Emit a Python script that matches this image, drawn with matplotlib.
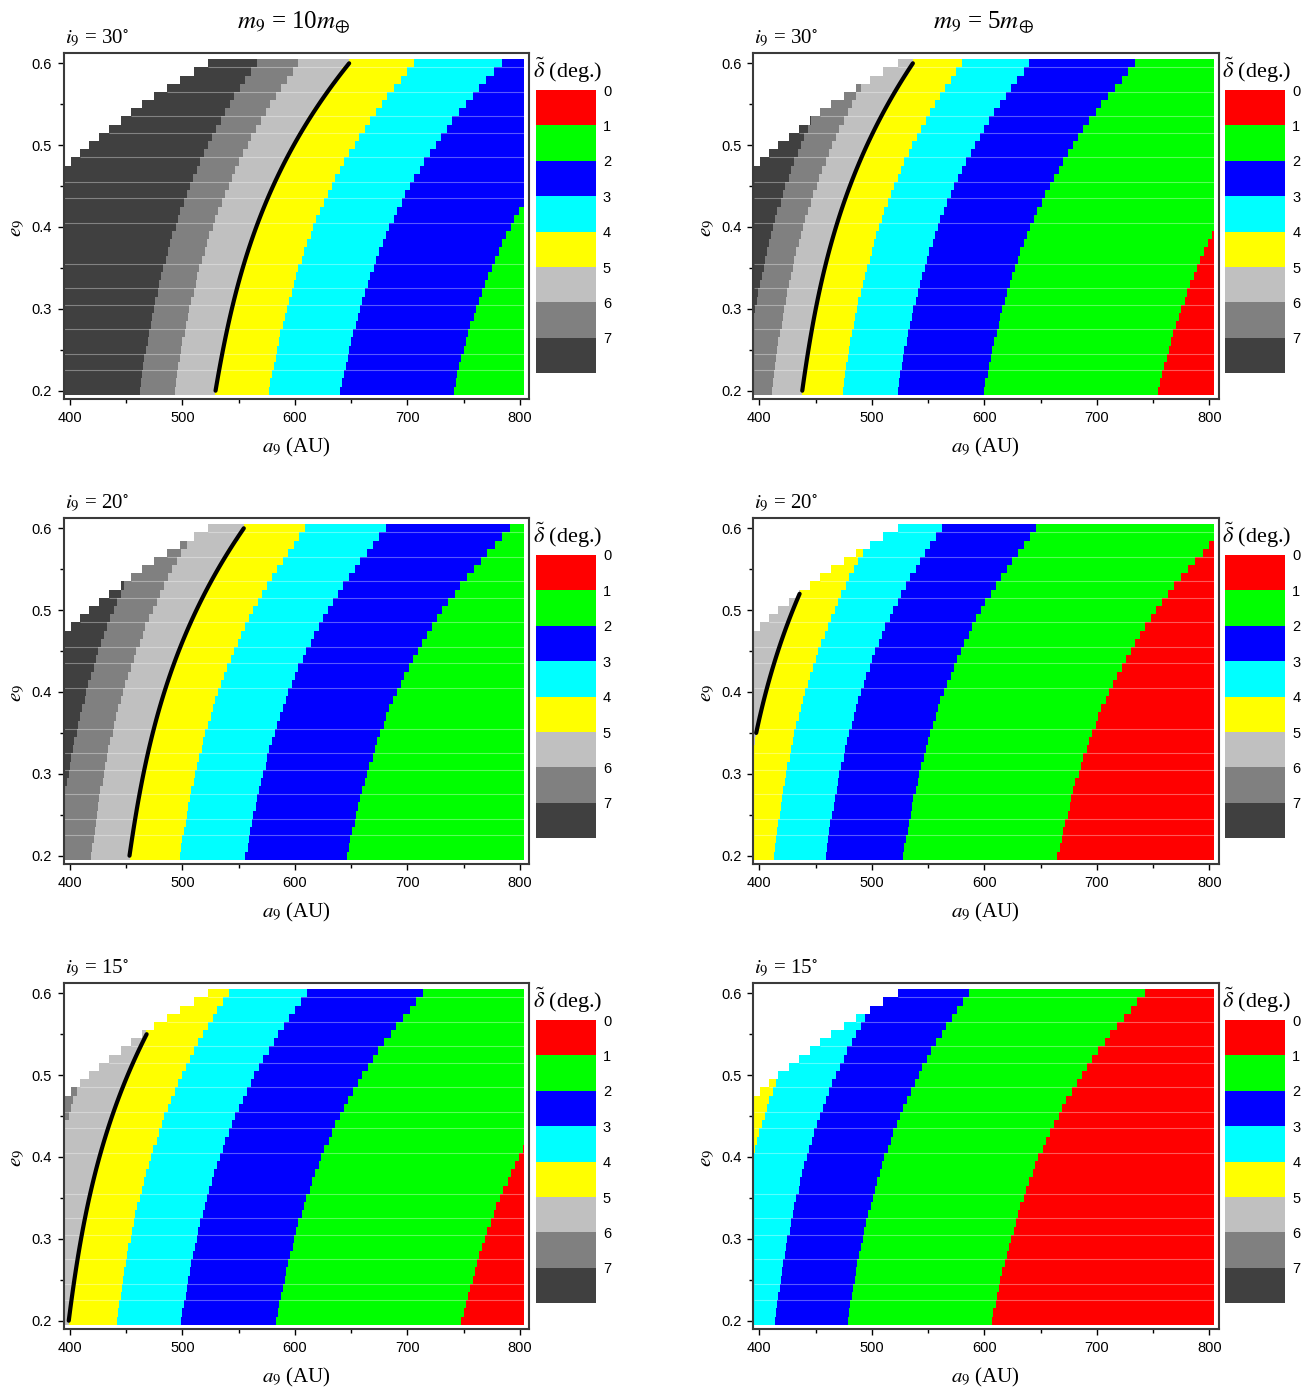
import numpy as np
import matplotlib
matplotlib.use('Agg')
import matplotlib.pyplot as plt
from matplotlib.colors import ListedColormap, BoundaryNorm

plt.rcParams['mathtext.fontset'] = 'stix'
plt.rcParams['font.family'] = ['Liberation Sans', 'DejaVu Sans']

# ---------------- data ----------------
MASS_TITLES = [r'$m_9$ = 10$m_{\oplus}$', r'$m_9$ = 5$m_{\oplus}$']
INCL_VALUES = ['30', '20', '15']
LEVEL_COLORS = ['#ff0000', '#00ff00', '#0000ff', '#00ffff',
                '#ffff00', '#c0c0c0', '#808080', '#404040']
CB_TICKS = [0, 1, 2, 3, 4, 5, 6, 7]
X_TICKS = [400, 500, 600, 700, 800]
Y_TICKS = [0.2, 0.3, 0.4, 0.5, 0.6]

# a9 (AU) at e9 = 0.2 of the boundary between delta-bin k and bin k-1, k = 1..7
# (inf: boundary beyond the right edge, 0: beyond the left edge)
B_M10_I30 = [np.inf, 741.0, 640.6, 577.0, 529.5, 493.0, 462.0]
B_M5_I30 = [754.5, 600.0, 523.0, 474.0, 438.3, 411.0, 386.0]
B_M10_I20 = [np.inf, 646.5, 556.5, 497.8, 453.0, 418.7, 388.0]
B_M5_I20 = [665.5, 528.0, 459.0, 412.7, 380.0, 0.0, 0.0]
B_M10_I15 = [748.3, 583.6, 499.0, 441.8, 399.0, 363.5, 0.0]
B_M5_I15 = [607.0, 478.8, 414.0, 369.0, 0.0, 0.0, 0.0]
BOUNDS = [[B_M10_I30, B_M5_I30], [B_M10_I20, B_M5_I20], [B_M10_I15, B_M5_I15]]

# how every boundary shifts to larger a9 with e9 (ratio to its e9 = 0.2 position)
PROFILE_E = [0.20, 0.25, 0.30, 0.35, 0.40, 0.45, 0.50, 0.55, 0.60]
PROFILE_F = [1.000, 1.012, 1.027, 1.046, 1.068, 1.097, 1.130, 1.174, 1.224]

# blank (white) upper-left region: smallest valid a9 in each e9 row
WHITE_E = [0.48, 0.49, 0.50, 0.51, 0.52, 0.53, 0.54, 0.55, 0.56, 0.57, 0.58, 0.59, 0.60]
WHITE_A = [401, 409, 417, 426, 435, 445, 454, 464, 475, 486, 498, 510, 523]

# e9 span of the thick black delta = 5 deg curve in each panel
LINE_SPAN = [[(0.20, 0.60), (0.20, 0.60)],
             [(0.20, 0.60), (0.35, 0.52)],
             [(0.20, 0.55), None]]

# faint light raster streaks visible across the maps
STREAK_E = [0.225, 0.245, 0.275, 0.305, 0.325, 0.355, 0.405, 0.435,
            0.455, 0.485, 0.515, 0.535, 0.565, 0.595]

# grid of the map
E_ROWS = np.round(np.arange(0.20, 0.6001, 0.01), 2)
A_EDGES = np.arange(395.0, 805.0, 1.0)

# smooth version of the profile (cubic fit through the read points)
PCOEF = np.polyfit(PROFILE_E, PROFILE_F, 3)


def profile(e):
    return np.polyval(PCOEF, e)


# ---------------- layout (pixels of 1311 x 1391) ----------------
W, H = 1311, 1391
fig = plt.figure(figsize=(W / 100, H / 100), dpi=100)

AX_L0, AX_T0, AX_W, AX_H = 64.0, 53.3, 465.3, 346.0
DX, DY = 689.3, 465.0
CB_L0, CB_T0, CB_W, CB_H = 536.0, 90.0, 60.0, 283.3

cmap = ListedColormap(LEVEL_COLORS)
norm = BoundaryNorm(np.arange(9), 8)

serif = ['Liberation Serif', 'DejaVu Serif']


def fx(px):
    return px / W


def fy(py):
    return 1 - py / H


a_cent = 0.5 * (A_EDGES[:-1] + A_EDGES[1:])
e_edges = np.append(E_ROWS - 0.005, E_ROWS[-1] + 0.005)

for r in range(3):
    for c in range(2):
        left = AX_L0 + DX * c
        top = AX_T0 + DY * r
        ax = fig.add_axes([fx(left), fy(top + AX_H), AX_W / W, AX_H / H])
        bnds = np.array(BOUNDS[r][c])
        fac = profile(E_ROWS)
        Z = np.zeros((len(E_ROWS), len(a_cent)))
        for k in range(7):
            Z += (a_cent[None, :] < bnds[k] * fac[:, None])
        Z = Z + 0.5
        for i, e in enumerate(E_ROWS):
            for we, wa in zip(WHITE_E, WHITE_A):
                if abs(e - we) < 1e-6:
                    Z[i, a_cent < wa] = np.nan
        Zm = np.ma.masked_invalid(Z)
        ax.pcolormesh(A_EDGES, e_edges, Zm, cmap=cmap, norm=norm,
                      shading='flat', rasterized=True)

        # faint streaks only over coloured cells
        for se in STREAK_E:
            ia = 0
            for we, wa in zip(WHITE_E, WHITE_A):
                if abs(se + 0.005 - we) < 1e-6 or abs(se - 0.005 - we) < 1e-6:
                    ia = max(ia, wa)
            x0 = max(A_EDGES[0], ia)
            ax.plot([x0, A_EDGES[-1]], [se, se], color='white', lw=0.8,
                    alpha=0.35, solid_capstyle='butt')

        span = LINE_SPAN[r][c]
        if span is not None:
            el = np.linspace(span[0], span[1], 80)
            al = bnds[4] * profile(el)
            ax.plot(al, el, color='black', lw=3.0, solid_capstyle='round')

        ax.set_xlim(394.7, 808.3)
        ax.set_ylim(0.1895, 0.6122)
        ax.set_xticks(X_TICKS)
        ax.set_xticks([450, 550, 650, 750], minor=True)
        ax.set_yticks(Y_TICKS)
        ax.set_yticks([0.25, 0.35, 0.45, 0.55], minor=True)
        ax.set_xticklabels([str(v) for v in X_TICKS])
        ax.set_yticklabels([f'{v:.1f}' for v in Y_TICKS])
        ax.tick_params(which='both', direction='out', labelsize=10.5, width=1,
                       top=False, right=False)
        ax.tick_params(which='major', length=4.5, pad=4)
        ax.tick_params(which='minor', length=3)
        for sp in ax.spines.values():
            sp.set_linewidth(1.5)
            sp.set_color('#3a3a3a')

        # labels
        cx = left + AX_W / 2
        fig.text(fx(cx), fy(top + AX_H + 48), r'$a_9$ (AU)', ha='center', va='center',
                 fontsize=15, family=serif)
        fig.text(fx(left - 47), fy(top + AX_H / 2 + 2), r'$e_9$', ha='center', va='center',
                 fontsize=15, family=serif, rotation=90)
        fig.text(fx(left + 1), fy(top - 11), r'$i_9$ = ' + INCL_VALUES[r] + r'$^{\circ}$',
                 ha='left', va='baseline', fontsize=15, family=serif)

        # colour bar
        cl = CB_L0 + DX * c
        ct = CB_T0 + DY * r
        cax = fig.add_axes([fx(cl), fy(ct + CB_H), CB_W / W, CB_H / H])
        cax.pcolormesh([0, 1], np.arange(9), (np.arange(8) + 0.5).reshape(8, 1),
                       cmap=cmap, norm=norm, shading='flat')
        cax.set_ylim(8, 0)
        cax.set_xlim(0, 1)
        cax.set_xticks([])
        cax.yaxis.tick_right()
        cax.set_yticks(CB_TICKS)
        cax.set_yticklabels([str(v) for v in CB_TICKS])
        cax.tick_params(axis='y', length=0, pad=5, labelsize=10.5)
        for sp in cax.spines.values():
            sp.set_visible(False)
        fig.text(fx(cl - 3), fy(ct - 12), r'$\tilde{\delta}$ (deg.)', ha='left',
                 va='baseline', fontsize=16, family=serif)

for c in range(2):
    cx = AX_L0 + DX * c + AX_W / 2
    fig.text(fx(cx - 3), fy(22), MASS_TITLES[c], ha='center', va='center',
             fontsize=18, family=serif)

fig.savefig('out.png', dpi=100)
